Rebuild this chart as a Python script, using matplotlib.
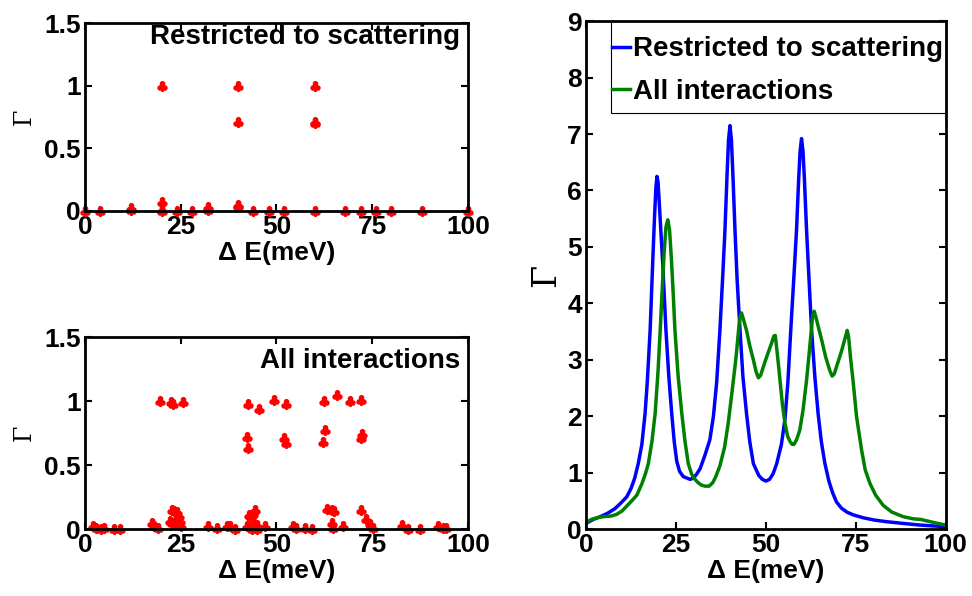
import numpy as np
import matplotlib
matplotlib.use("Agg")
import matplotlib.pyplot as plt
from matplotlib.patches import Rectangle

plt.rcParams['font.family'] = ['Liberation Sans', 'DejaVu Sans']
plt.rcParams['font.weight'] = 'bold'

# --- scatter: restricted to scattering
top_x = [0, 4, 12, 12, 20, 20, 20, 20, 24, 28, 32, 32, 40, 40, 40, 40,
         44, 48, 52, 60, 60, 60, 60, 68, 72, 76, 80, 88, 100]
top_y = [0, 0, 0.02, 0.01, 1.0, 0.07, 0.01, 0, 0, 0, 0.03, 0.01, 1.0, 0.71, 0.05, 0.04,
         0, 0, 0, 1.0, 0.71, 0.70, 0, 0, 0, 0, 0, 0, 0]

# --- scatter: all interactions
bot_x = [19.6, 22.5, 23, 25.5, 42.5, 45.5, 49.3, 52.4, 62.5, 65.7, 69.2, 72.2,
         42.4, 42.6, 51.9, 52.4, 62.2, 62.8, 72.2, 72.4,
         2.1, 2.8, 4.3, 5, 7.5, 9.1, 17.4, 18, 19.1, 22.2, 22.6, 23.3, 24, 24.6,
         22.8, 23.8, 24.2, 24.8, 25, 32.1, 34.4, 37, 38, 39.2, 42.2, 42.8, 43.3,
         43.8, 44.5, 44, 44.8, 43.5, 45, 47, 54.4, 55, 57.4, 59.2, 63.1, 64.4,
         65, 64.4, 64.7, 67.4, 72.2, 73.5, 74.4, 75.3, 82.7, 84.4, 87.5, 92.3,
         93.5, 94.4]
bot_y = [1.0, 0.99, 0.98, 0.99, 0.98, 0.94, 1.01, 0.98, 1.0, 1.05, 1.0, 1.01,
         0.72, 0.63, 0.71, 0.67, 0.68, 0.77, 0.71, 0.74,
         0.02, 0.01, 0.0, 0.01, 0.0, 0.0, 0.05, 0.02, 0.01, 0.06, 0.15, 0.14, 0.13, 0.10,
         0.05, 0.07, 0.04, 0.06, 0.02, 0.02, 0.01, 0.02, 0.02, 0.0, 0.02, 0.11, 0.09,
         0.12, 0.15, 0.05, 0.03, 0.0, 0.0, 0.02, 0.02, 0.01, 0.01, 0.0, 0.16, 0.15,
         0.14, 0.05, 0.01, 0.02, 0.15, 0.08, 0.04, 0.01, 0.03, 0.0, 0.0, 0.02,
         0.01, 0.01]

# --- right panel curves
blue_x = [0, 2, 4, 6, 8, 9.5, 11.3, 12.5, 13.5, 14.5, 15.5, 16.4, 17, 17.8, 18.5, 19,
          19.4, 19.7, 20.0, 20.5, 21.3, 22.2, 23, 23.8, 24.5, 25.2, 26, 27, 28.9, 29.8,
          30.7, 31.7, 33, 34.4, 35.4, 36.3, 37.2, 38, 38.6, 39.2, 39.6, 40, 40.4, 40.8,
          41.4, 42, 42.8, 43.6, 44.6, 45.5, 46.5, 48, 49, 50, 51, 52, 53, 54.3, 55.3,
          56.1, 56.9, 57.8, 58.5, 59.1, 59.5, 59.9, 60.3, 60.7, 61.3, 62, 62.7, 63.6,
          64.5, 65.4, 66.4, 67.5, 68.5, 69.6, 71, 72.5, 74.3, 77, 80, 83.5, 88, 92.8, 100]
blue_y = [0.1, 0.17, 0.22, 0.28, 0.36, 0.45, 0.57, 0.72, 0.9, 1.16, 1.5, 2.05, 2.6, 3.52, 4.7, 5.5,
          6.05, 6.25, 6.15, 5.6, 4.7, 3.52, 2.7, 2.05, 1.55, 1.2, 1.02, 0.93, 0.88, 0.9,
          0.97, 1.07, 1.3, 1.58, 2.0, 2.6, 3.52, 4.5, 5.29, 6.3, 6.9, 7.15, 6.9, 6.3,
          5.29, 4.4, 3.52, 2.7, 2.05, 1.55, 1.16, 0.95, 0.88, 0.85, 0.88, 0.98, 1.16, 1.5, 1.95,
          2.6, 3.52, 4.5, 5.29, 6.2, 6.7, 6.92, 6.7, 6.2, 5.29, 4.4, 3.52, 2.7,
          2.05, 1.55, 1.16, 0.85, 0.65, 0.48, 0.37, 0.3, 0.25, 0.2, 0.16, 0.13, 0.1, 0.07, 0.04]

green_x = [0, 1.5, 3, 5, 7, 8.5, 10, 11.5, 13, 14.1, 15.5, 16.5, 17.3, 18.3, 19.2, 20,
           20.6, 21.2, 21.7, 22.2, 22.7, 23.2, 23.7, 24.2, 24.7, 25.6, 26.6, 27.5, 28.4,
           29.3, 30, 31, 32, 33, 34.2, 35.2, 36, 37.2, 38.5, 39.5, 40.7, 41.7, 42.5, 42.8,
           43.2, 43.6, 44.6, 45.5, 46.5, 47.3, 47.9, 48.5, 49.3, 50.2, 51.6, 52.2, 52.6,
           53, 53.5, 53.9, 54.6, 55.3, 56, 56.7, 57.3, 57.8, 58.5, 59.4, 60.3, 61.3, 62,
           62.7, 63.0, 63.4, 63.8, 64.5, 65.5, 66.6, 67.8, 68.4, 69, 70, 71, 72, 72.6,
           73.0, 73.5, 74.3, 75.2, 76.6, 77.6, 78.9, 80.5, 82.6, 85, 88.1, 91, 93, 95, 97, 100]
green_y = [0.12, 0.17, 0.2, 0.22, 0.23, 0.26, 0.32, 0.42, 0.52, 0.6, 0.8, 0.98, 1.16, 1.55, 2.05, 2.8,
           3.52, 4.3, 4.9, 5.35, 5.48, 5.3, 4.8, 4.2, 3.52, 2.7, 2.05, 1.55, 1.16,
           0.98, 0.9, 0.83, 0.78, 0.76, 0.76, 0.82, 0.92, 1.12, 1.45, 1.87, 2.5, 3.05, 3.6, 3.75,
           3.83, 3.75, 3.52, 3.25, 3.0, 2.78, 2.68, 2.72, 2.88, 3.05, 3.3, 3.42, 3.43,
           3.2, 2.9, 2.64, 2.2, 1.87, 1.65, 1.55, 1.5, 1.5, 1.58, 1.75, 2.1, 2.64, 3.1,
           3.58, 3.78, 3.86, 3.78, 3.6, 3.35, 3.05, 2.8, 2.71, 2.75, 2.95, 3.15, 3.38, 3.52,
           3.4, 3.05, 2.58, 1.99, 1.4, 1.05, 0.81, 0.6, 0.42, 0.3, 0.22, 0.18, 0.17, 0.14, 0.11, 0.07]

xticks = [0, 25, 50, 75, 100]
fs = 19

fig = plt.figure(figsize=(9.72, 5.96), dpi=100)
ax1 = fig.add_axes([0.0874, 0.646, 0.394, 0.315])
ax2 = fig.add_axes([0.0874, 0.1124, 0.394, 0.322])
ax3 = fig.add_axes([0.603, 0.1124, 0.370, 0.852])

def style(ax):
    ax.tick_params(direction='in', top=True, right=True, labelsize=fs, length=5, width=1.5, pad=3)
    for s in ax.spines.values():
        s.set_linewidth(2)
    ax.set_xlim(0, 100)
    ax.set_xticks(xticks)
    ax.set_xlabel('Δ E(meV)', fontsize=fs, fontweight='bold', labelpad=1)

for ax, xs, ys, txt, ty in [(ax1, top_x, top_y, 'Restricted to scattering', 0.925),
                            (ax2, bot_x, bot_y, 'All interactions', 0.875)]:
    ax.plot(xs, ys, linestyle='none', marker=r'$\clubsuit$', color='red',
            markersize=7, clip_on=False)
    style(ax)
    ax.set_ylim(0, 1.5)
    ax.set_yticks([0, 0.5, 1, 1.5])
    ax.set_yticklabels(['0', '0.5', '1', '1.5'])
    ax.set_ylabel('Γ', family='DejaVu Serif', fontweight='normal', fontsize=17, labelpad=6)
    ax.text(0.98, ty, txt, transform=ax.transAxes, ha='right', va='center',
            fontsize=20, fontweight='bold')

ax3.plot(blue_x, blue_y, color='#0000ff', lw=2.5, label='Restricted to scattering')
ax3.plot(green_x, green_y, color='#008000', lw=2.5, label='All interactions')
style(ax3)
ax3.set_ylim(0, 9)
ax3.set_yticks(range(10))
ax3.set_ylabel('Γ', family='DejaVu Serif', fontweight='normal', fontsize=24, labelpad=4)

# legend box drawn separately (MATLAB-like tight frame), under the spines
ax3.add_patch(Rectangle((0.069, 0.819), 0.931, 0.181, transform=ax3.transAxes,
                        facecolor='white', edgecolor='black', lw=0.8, zorder=2.2))
leg = ax3.legend(loc='upper left', bbox_to_anchor=(0.073, 0.97), handlelength=0.65,
                 handletextpad=0.1, borderaxespad=0, borderpad=0, frameon=False,
                 labelspacing=0.6, prop={'weight': 'bold', 'size': 20})
leg.set_zorder(5)

fig.savefig('out.png', dpi=100)
